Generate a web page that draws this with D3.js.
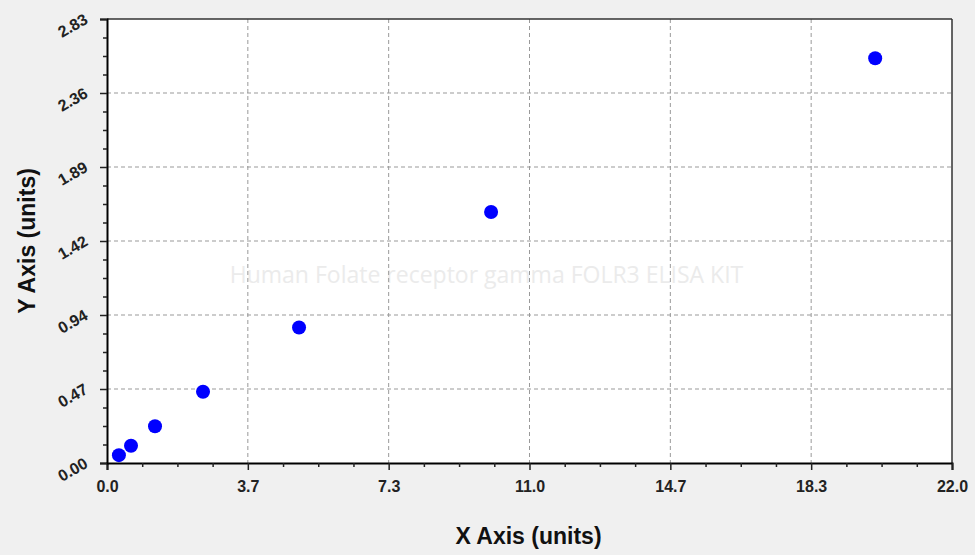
<!DOCTYPE html>
<html>
<head>
<meta charset="utf-8">
<script src="https://cdn.jsdelivr.net/npm/d3@7"></script>
<style>
  body { margin: 0; background: #f0f0f0; }
  svg { display: block; font-family: "Liberation Sans", Arial, sans-serif; }
</style>
</head>
<body>
<div id="chart"></div>
<script>
const width = 975;
const height = 555;

// standard curve points
var xValues = [0.31, 0.625, 1.25, 2.5, 5, 10, 20];
var yValues = [0.05, 0.11, 0.234, 0.454, 0.864, 1.60, 2.58];

var xTicks = [0, 22/6, 44/6, 11, 88/6, 110/6, 22];
var xTickLabels = ["0.0", "3.7", "7.3", "11.0", "14.7", "18.3", "22.0"];
var yTicks = [0, 2.83/6, 2*2.83/6, 3*2.83/6, 4*2.83/6, 5*2.83/6, 2.83];
var yTickLabels = ["0.00", "0.47", "0.94", "1.42", "1.89", "2.36", "2.83"];

var watermark = "Human Folate receptor gamma FOLR3 ELISA KIT";

var margin = {top: 19, right: 23, bottom: 92, left: 107};
var innerW = width - margin.left - margin.right;
var innerH = height - margin.top - margin.bottom;

var svg = d3.select("#chart").append("svg")
  .attr("width", width).attr("height", height);

svg.append("rect").attr("width", width).attr("height", height).attr("fill", "#f0f0f0");

var g = svg.append("g").attr("transform", `translate(${margin.left},${margin.top})`);

var x = d3.scaleLinear().domain([0, 22]).range([0, innerW]);
var y = d3.scaleLinear().domain([0, 2.83]).range([innerH, 0]);

g.append("rect").attr("width", innerW).attr("height", innerH).attr("fill", "#fff");

// watermark
g.append("text")
  .attr("x", innerW / 2 - 43).attr("y", 264)
  .attr("text-anchor", "middle")
  .attr("font-family", "'Open Sans', sans-serif")
  .attr("font-size", 23)
  .attr("fill", "#ebebeb")
  .text(watermark);

// grid
g.selectAll(".vgrid").data(xTicks.slice(1, -1)).enter().append("line")
  .attr("x1", d => x(d)).attr("x2", d => x(d))
  .attr("y1", 0).attr("y2", innerH)
  .attr("stroke", "#999").attr("stroke-dasharray", "4,3");
g.selectAll(".hgrid").data(yTicks.slice(1, -1)).enter().append("line")
  .attr("x1", 0).attr("x2", innerW)
  .attr("y1", d => y(d)).attr("y2", d => y(d))
  .attr("stroke", "#999").attr("stroke-dasharray", "4,3");

// frame top/right
g.append("line").attr("x1", 0).attr("x2", innerW).attr("y1", 0).attr("y2", 0)
  .attr("stroke", "#333").attr("stroke-width", 1.5);
g.append("line").attr("x1", innerW).attr("x2", innerW).attr("y1", 0).attr("y2", innerH)
  .attr("stroke", "#333").attr("stroke-width", 1.5);

// minor ticks
var xMinor = [], yMinor = [];
for (let i = 0; i < 6; i++) for (let j = 1; j < 4; j++) {
  xMinor.push(xTicks[i] + (xTicks[i + 1] - xTicks[i]) * j / 4);
  yMinor.push(yTicks[i] + (yTicks[i + 1] - yTicks[i]) * j / 4);
}

var xAxis = g.append("g").attr("transform", `translate(0,${innerH})`)
  .call(d3.axisBottom(x).tickValues(xTicks).tickFormat((d, i) => xTickLabels[i]).tickSizeOuter(0).tickSize(7).tickPadding(8));
xAxis.append("g").call(d3.axisBottom(x).tickValues(xMinor).tickFormat("").tickSize(4).tickSizeOuter(0))
  .select(".domain").remove();

var yAxis = g.append("g")
  .call(d3.axisLeft(y).tickValues(yTicks).tickFormat((d, i) => yTickLabels[i]).tickSizeOuter(0).tickSize(7).tickPadding(6));
yAxis.append("g").call(d3.axisLeft(y).tickValues(yMinor).tickFormat("").tickSize(4).tickSizeOuter(0))
  .select(".domain").remove();

[xAxis, yAxis].forEach(a => {
  a.selectAll(".domain").attr("stroke", "#000").attr("stroke-width", 2);
  a.selectAll(".tick line").attr("stroke", "#222").attr("stroke-width", 1.5);
  a.selectAll(".tick text").attr("font-size", 16).attr("font-weight", "bold").attr("fill", "#222");
});

xAxis.selectAll(".tick text").attr("dy", "0.85em");

yAxis.selectAll(".tick text")
  .attr("x", null).attr("dy", null)
  .attr("transform", "translate(-18,3) rotate(-30)")
  .attr("text-anchor", "end");

// axis titles
svg.append("text")
  .attr("x", margin.left + innerW / 2 - 1).attr("y", 544)
  .attr("text-anchor", "middle")
  .attr("font-size", 23).attr("font-weight", "bold").attr("fill", "#111")
  .text("X Axis (units)");

svg.append("text")
  .attr("transform", `translate(35,${margin.top + innerH / 2}) rotate(-90)`)
  .attr("text-anchor", "middle")
  .attr("font-size", 23).attr("font-weight", "bold").attr("fill", "#111")
  .text("Y Axis (units)");

// points
g.selectAll("circle").data(xValues).enter().append("circle")
  .attr("cx", d => x(d))
  .attr("cy", (d, i) => y(yValues[i]))
  .attr("r", 7)
  .attr("fill", "#0000ff");
</script>
</body>
</html>
